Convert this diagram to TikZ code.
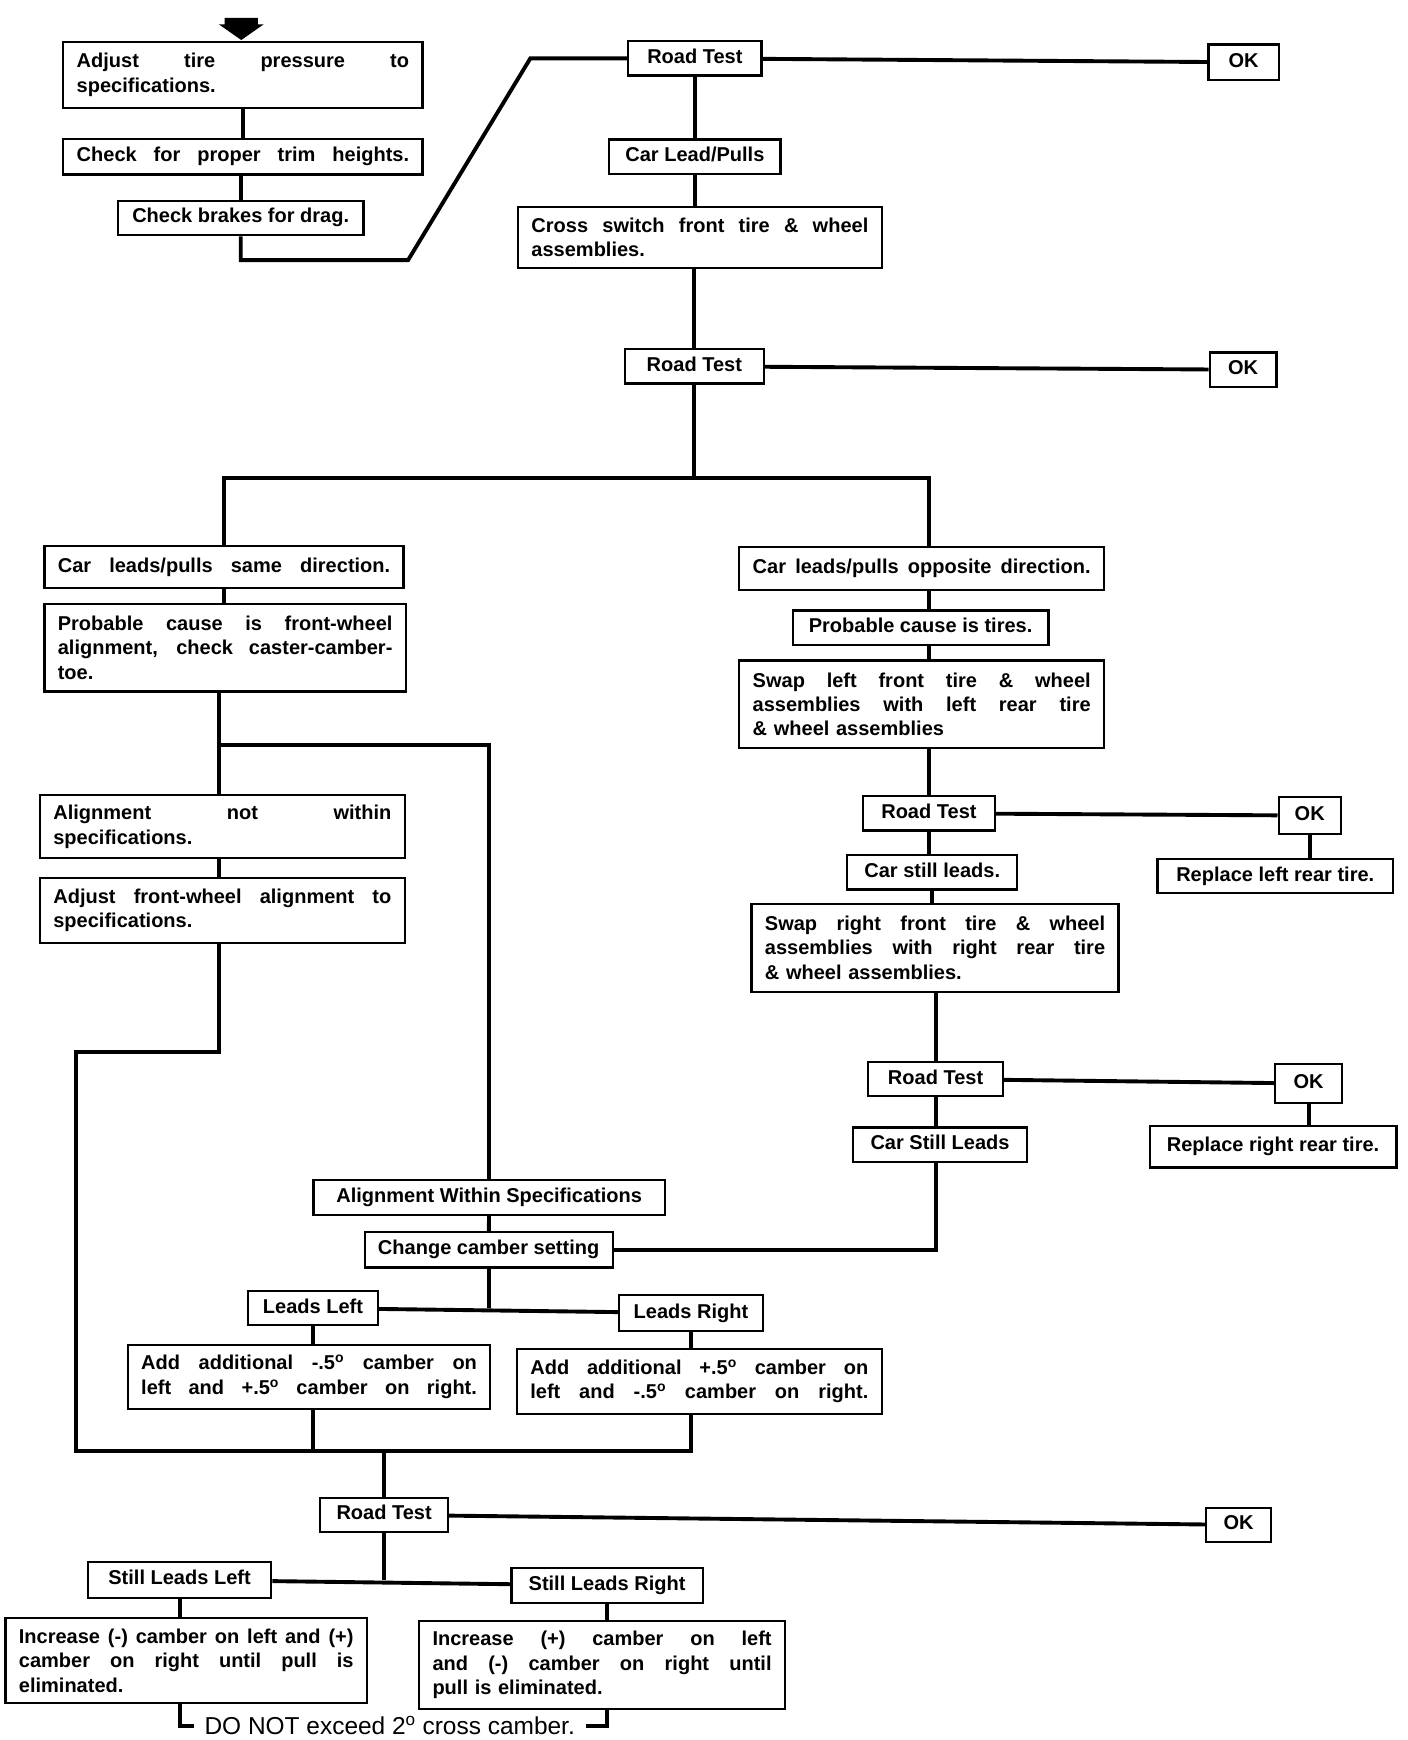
\documentclass[tikz,border=0pt]{standalone}
\usepackage{fontspec}
\setmainfont{Liberation Sans}
\hbadness=10000
\newcommand{\fullline}[1]{\leavevmode\hbox to \hsize{\spaceskip=0pt\xspaceskip=0pt #1}}
\newcommand{\dg}{\textsuperscript{o}}

\begin{document}
\begin{tikzpicture}[x=1pt, y=-1pt, line width=3.5pt,
    box/.style={draw, line width=2pt, fill=white, inner xsep=12pt, inner ysep=7pt,
      font=\fontsize{18}{22}\selectfont\bfseries},
    tag/.style={box, text height=13pt, text depth=4pt},
    para/.style={box, align=left}]
    \useasboundingbox (0,0) rectangle (1266,1565);

    % Start
    \coordinate (start) at (217,36);
    \fill (start) -- (197,22) -- (202,22) -- (202,16) -- (232,16) -- (232,22) -- (237,22) -- cycle;

    % Preliminary checks
    \node[para, text width=299pt, minimum height=59pt] (adj) at (218.5,67.5)
        {\fullline{Adjust tire pressure to}\\specifications.};
    \node[para, text width=299pt, minimum height=32pt] (trim) at (218.5,141)
        {\fullline{Check for proper trim heights.}};
    \node[tag, minimum width=221pt] (brake) at (216.5,196) {Check brakes for drag.};

    % First road tests
    \node[tag, minimum width=120pt] (rt1) at (625,52.5) {Road Test};
    \node[tag, minimum width=63pt, minimum height=32pt] (ok1) at (1118.5,56) {OK};
    \node[tag, minimum width=154pt] (pull) at (625,141) {Car Lead/Pulls};
    \node[para, text width=303pt, minimum height=55pt] (cross) at (629.5,213.5)
        {\fullline{Cross switch front tire \& wheel}\\assemblies.};
    \node[tag, minimum width=125pt] (rt2) at (624.5,329.5) {Road Test};
    \node[tag, minimum width=60pt] (ok2) at (1118,332.5) {OK};

    % Same direction
    \node[para, text width=299pt, minimum height=38pt] (same) at (201.5,510)
        {\fullline{Car leads/pulls same direction.}};
    \node[para, text width=301pt, minimum height=79pt] (front) at (202.5,582.5)
        {\fullline{Probable cause is front-wheel}\\\fullline{alignment, check caster-camber-}\\toe.};
    \node[para, text width=304pt, minimum height=57pt] (notin) at (200,743.5)
        {\fullline{Alignment not within}\\specifications.};
    \node[para, text width=304pt, minimum height=58pt] (adjfw) at (200,819)
        {\fullline{Adjust front-wheel alignment to}\\specifications.};

    % Opposite direction
    \node[para, text width=304pt, minimum height=39pt] (opp) at (829,511.5)
        {\fullline{Car leads/pulls opposite direction.}};
    \node[tag, minimum width=230pt] (tires) at (828,564.5) {Probable cause is tires.};
    \node[para, text width=304pt, minimum height=79pt] (swapl) at (829,633.5)
        {\fullline{Swap left front tire \& wheel}\\\fullline{assemblies with left rear tire}\\\& wheel assemblies};
    \node[tag, minimum width=119pt] (rt3) at (835.5,731.5) {Road Test};
    \node[tag, minimum width=56pt, minimum height=33pt] (ok3) at (1178,733.5) {OK};
    \node[tag, minimum width=212pt] (repl) at (1147,788) {Replace left rear tire.};
    \node[tag, minimum width=153pt] (still1) at (838.5,784.5) {Car still leads.};
    \node[para, text width=306pt, minimum height=79pt] (swapr) at (841,852.5)
        {\fullline{Swap right front tire \& wheel}\\\fullline{assemblies with right rear tire}\\\& wheel assemblies.};
    \node[tag, minimum width=121pt] (rt5) at (841.5,970.5) {Road Test};
    \node[tag, minimum width=60pt, minimum height=35pt] (ok5) at (1177,974.5) {OK};
    \node[tag, minimum width=222pt, minimum height=37pt] (repr) at (1145,1031.5) {Replace right rear tire.};
    \node[tag, minimum width=157pt] (still2) at (845.5,1029.5) {Car Still Leads};

    % Camber
    \node[tag, minimum width=316pt, minimum height=30pt] (within) at (440,1077) {Alignment Within Specifications};
    \node[tag, minimum width=221pt, minimum height=32pt] (chg) at (439.5,1124) {Change camber setting};
    \node[tag, minimum width=117pt] (ll) at (281.5,1176.5) {Leads Left};
    \node[tag, minimum width=129pt, minimum height=32pt] (lr) at (621.5,1181) {Leads Right};
    \node[para, text width=302pt, minimum height=57pt] (addl) at (278,1238.5)
        {\fullline{Add additional -.5\dg\ camber on}\\\fullline{left and +.5\dg\ camber on right.}};
    \node[para, text width=304pt, minimum height=59pt] (addr) at (629,1242.5)
        {\fullline{Add additional +.5\dg\ camber on}\\\fullline{left and -.5\dg\ camber on right.}};

    % Last road test
    \node[tag, minimum width=115pt] (rt4) at (345.5,1362.5) {Road Test};
    \node[tag, minimum width=58pt] (ok4) at (1114,1371.5) {OK};
    \node[tag, minimum width=165pt, minimum height=32pt] (sll) at (161.5,1421) {Still Leads Left};
    \node[tag, minimum width=172pt, minimum height=32pt] (slr) at (546,1426) {Still Leads Right};
    \node[para, text width=301pt, minimum height=77pt] (incl) at (167.5,1493.5)
        {\fullline{Increase (-) camber on left and (+)}\\\fullline{camber on right until pull is}\\eliminated.};
    \node[para, text width=305pt, minimum height=79pt] (incr) at (541.5,1497.5)
        {\fullline{Increase (+) camber on left}\\\fullline{and (-) camber on right until}\\pull is eliminated.};
    \node[font=\fontsize{22}{26}\selectfont, inner xsep=8pt, inner ysep=2pt] (note) at (350.5,1552)
        {DO NOT exceed 2\dg\ cross camber.};

    % Connectors
    \coordinate (k1) at (367,234);
    \coordinate (k2) at (477,52.5);
    \coordinate (fork) at (624.5,430);
    \coordinate (split) at (197,670);
    \coordinate (bend) at (68,946);
    \coordinate (merge) at (345.5,1305);

    \draw (adj) -- (trim);
    \draw (trim.south -| brake) -- (brake.north);
    \draw (brake.south) |- (k1) -- (k2) -- (rt1.west);
    \draw (rt1) -- (ok1);
    \draw (rt1) -- (pull);
    \draw (pull.south) -- (pull.south |- cross.north);
    \draw (cross.south -| rt2) -- (rt2.north);
    \draw (rt2) -- (ok2);
    \draw (rt2.south) -- (fork);
    \draw (same.north) |- (fork) -| (rt3.north |- opp.north);

    % right branch
    \draw (opp.south -| rt3) -- (tires.north -| rt3);
    \draw (tires.south -| rt3) -- (swapl.north -| rt3);
    \draw (swapl.south -| rt3) -- (rt3.north);
    \draw (rt3) -- (ok3);
    \draw (ok3.south) -- (ok3.south |- repl.north);
    \draw (rt3.south) -- (rt3.south |- still1.north);
    \draw (still1.south) -- (still1.south |- swapr.north);
    \draw (swapr.south -| rt5) -- (rt5.north);
    \draw (rt5) -- (ok5);
    \draw (ok5.south) -- (ok5.south |- repr.north);
    \draw (rt5.south) -- (rt5.south |- still2.north);
    \draw (still2.south -| rt5) |- (chg.east);

    % left branch
    \draw (same.south) -- (same.south |- front.north);
    \draw (front.south -| split) -- (notin.north -| split);
    \draw (split) -| (within.north);
    \draw (notin.south -| split) -- (adjfw.north -| split);
    \draw (adjfw.south -| split) |- (bend) |- (lr.south |- merge) -- (lr.south |- addr.south);
    \draw (addl.south -| ll) -- (ll |- merge);
    \draw (merge) -- (rt4.north);

    % camber
    \draw (within) -- (chg);
    \draw (chg.south) -- (chg.south |- ll.east);
    \draw (ll) -- (lr);
    \draw (ll.south) -- (ll.south |- addl.north);
    \draw (lr.south) -- (lr.south |- addr.north);

    % bottom
    \draw (rt4) -- (ok4);
    \draw (rt4.south) -- (rt4.south |- sll.east);
    \draw (sll) -- (slr);
    \draw (sll.south) -- (sll.south |- incl.north);
    \draw (slr.south) -- (slr.south |- incr.north);
    \draw (incl.south -| sll) |- (note.west);
    \draw (incr.south -| slr) |- (note.east);

\end{tikzpicture}
\end{document}
